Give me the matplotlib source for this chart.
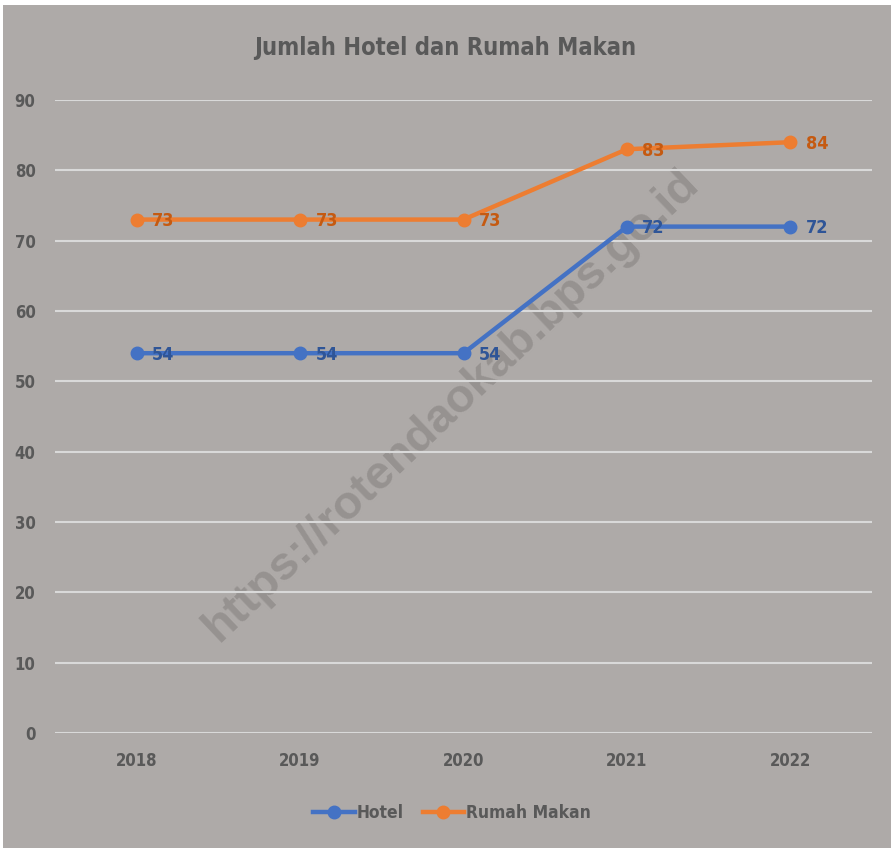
import matplotlib.pyplot as plt
from matplotlib.patches import Rectangle

years = ["2018", "2019", "2020", "2021", "2022"]
hotel = [54, 54, 54, 72, 72]
rumah_makan = [73, 73, 73, 83, 84]
yticks = [0, 10, 20, 30, 40, 50, 60, 70, 80, 90]

bg = "#aeaaa8"
txt = "#595959"
plt.rcParams["font.family"] = ["DejaVu Sans"]
plt.rcParams["font.stretch"] = "condensed"

fig = plt.figure(figsize=(8.91, 8.48), dpi=100, facecolor=bg)
# thin white strips at top and left, like the cropped screenshot
fig.patches.append(Rectangle((0, 0), 3 / 891, 1, transform=fig.transFigure,
                             facecolor="white", edgecolor="none", zorder=-5))
fig.patches.append(Rectangle((0, 1 - 5 / 848), 1, 5 / 848, transform=fig.transFigure,
                             facecolor="white", edgecolor="none", zorder=-5))
ax = fig.add_axes([55 / 891, 1 - 733 / 848, 817 / 891, 633 / 848])
ax.patch.set_alpha(0)

x = list(range(len(years)))
ax.plot(x, hotel, color="#4472C4", lw=3.2, marker="o", ms=9, label="Hotel", zorder=3)
ax.plot(x, rumah_makan, color="#ED7D31", lw=3.2, marker="o", ms=9, label="Rumah Makan", zorder=3)

for xi, v in zip(x, hotel):
    ax.annotate(str(v), (xi, v), xytext=(11, -1), textcoords="offset points",
                va="center", ha="left", fontsize=13, fontweight="bold", color="#2F5597")
for xi, v in zip(x, rumah_makan):
    ax.annotate(str(v), (xi, v), xytext=(11, -1), textcoords="offset points",
                va="center", ha="left", fontsize=13, fontweight="bold", color="#C55A11")

ax.set_xlim(-0.5, 4.5)
ax.set_ylim(0, 90)
ax.set_yticks(yticks)
ax.set_xticks(x)
ax.set_xticklabels(years)
ax.grid(axis="y", color="#d9d9d9", lw=1.5)
ax.set_axisbelow(True)
for s in ax.spines.values():
    s.set_visible(False)
ax.tick_params(length=0, colors=txt, labelsize=12)
ax.tick_params(axis="y", pad=14)
ax.tick_params(axis="x", pad=14)
for lab in ax.get_xticklabels() + ax.get_yticklabels():
    lab.set_fontweight("bold")

fig.text(0.5, 1 - 48 / 848, "Jumlah Hotel dan Rumah Makan", ha="center", va="center",
         fontsize=17, fontweight="bold", color=txt)

# watermark, under the grid and lines
fig.text(452 / 891, 1 - 405 / 848, "https://rotendaokab.bps.go.id", ha="center", va="center",
         rotation=43.5, fontsize=34, fontweight="bold", color="#969290",
         family=["Liberation Sans", "DejaVu Sans"], stretch="normal", zorder=-1)

leg = fig.legend(loc="center", bbox_to_anchor=(452 / 891, 1 - 813 / 848), ncol=2, frameon=False,
                 fontsize=12.5, handlelength=2.4, columnspacing=1.1, handletextpad=0.1)
for t in leg.get_texts():
    t.set_color(txt)
    t.set_fontweight("bold")

fig.savefig("out.png", dpi=100, facecolor=fig.get_facecolor())
